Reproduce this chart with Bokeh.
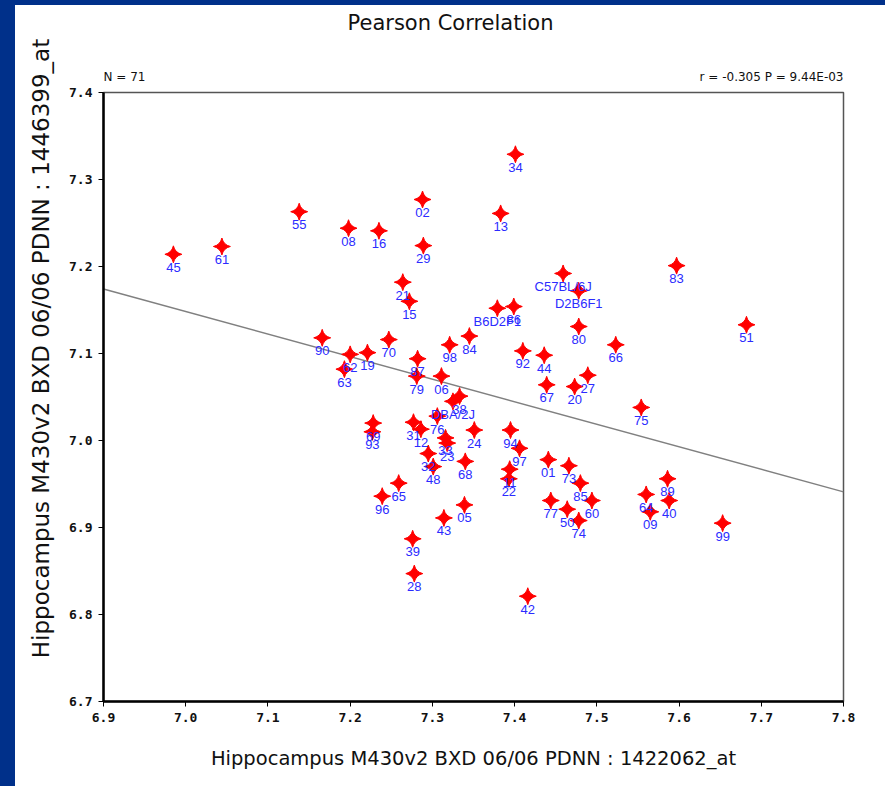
import numpy as np
from bokeh.plotting import figure
from bokeh.models import Range1d, FixedTicker, PrintfTickFormatter, Spacer, ColumnDataSource
from bokeh.layouts import column, row
from bokeh.core.properties import value
from bokeh.embed import file_html
from bokeh.resources import INLINE

# Strain means for the two probe sets (Hippocampus M430v2 BXD 06/06 PDNN)
strains = [
    "45", "61", "55", "08", "16", "02", "29", "21", "15", "34",
    "13", "83", "51", "C57BL/6J", "D2B6F1", "B6D2F1", "86", "80", "66", "84",
    "92", "44", "67", "20", "27", "75", "90", "62", "19", "63",
    "70", "98", "87", "79", "06", "38", "DBA/2J", "76", "31", "12",
    "33", "23", "69", "93", "24", "94", "97", "32", "48", "68",
    "11", "22", "65", "96", "05", "43", "39", "28", "42", "01",
    "73", "85", "77", "60", "50", "74", "64", "09", "89", "40",
    "99",
]
probe_1422062 = [
    6.985, 7.044, 7.138, 7.198, 7.235, 7.288, 7.289, 7.264, 7.272, 7.401,
    7.383, 7.597, 7.682, 7.459, 7.478, 7.379, 7.399, 7.478, 7.523, 7.345,
    7.410, 7.436, 7.439, 7.473, 7.489, 7.554, 7.166, 7.200, 7.221, 7.193,
    7.247, 7.321, 7.282, 7.281, 7.311, 7.333, 7.325, 7.306, 7.277, 7.286,
    7.316, 7.318, 7.228, 7.227, 7.351, 7.395, 7.406, 7.295, 7.301, 7.340,
    7.394, 7.393, 7.259, 7.239, 7.339, 7.314, 7.276, 7.278, 7.416, 7.441,
    7.466, 7.480, 7.444, 7.494, 7.464, 7.478, 7.560, 7.565, 7.586, 7.588,
    7.653,
]
probe_1446399 = [
    7.214, 7.223, 7.263, 7.244, 7.241, 7.277, 7.224, 7.182, 7.160, 7.329,
    7.261, 7.201, 7.133, 7.192, 7.172, 7.152, 7.154, 7.131, 7.110, 7.120,
    7.103, 7.098, 7.064, 7.062, 7.075, 7.038, 7.118, 7.099, 7.101, 7.082,
    7.116, 7.110, 7.094, 7.074, 7.074, 7.051, 7.045, 7.028, 7.021, 7.013,
    7.003, 6.997, 7.020, 7.010, 7.012, 7.012, 6.991, 6.985, 6.970, 6.976,
    6.967, 6.956, 6.951, 6.936, 6.926, 6.911, 6.887, 6.847, 6.821, 6.978,
    6.971, 6.951, 6.931, 6.931, 6.921, 6.908, 6.938, 6.918, 6.956, 6.931,
    6.905,
]
x_ticks = [6.9, 7.0, 7.1, 7.2, 7.3, 7.4, 7.5, 7.6, 7.7, 7.8]
y_ticks = [6.7, 6.8, 6.9, 7.0, 7.1, 7.2, 7.3, 7.4]
title_text = "Pearson Correlation"
n_text = "N = 71"
stat_text = "r = -0.305 P = 9.44E-03"
x_label = "Hippocampus M430v2 BXD 06/06 PDNN : 1422062_at"
y_label = "Hippocampus M430v2 BXD 06/06 PDNN : 1446399_at"

BAR_L, BAR_T = 15, 5          # blue page edge
PAGE_H = 781                  # height below the top bar
YT_W = 50                     # strip holding the vertical axis title
FIG_W = 885 - BAR_L - YT_W
PAD_L, PAD_R = 38, 42
HEAD_H = 79
x0, x1 = x_ticks[0], x_ticks[-1]
# data x at the horizontal middle of the whole page
x_mid = x0 + ((885 - BAR_L) / 2 - YT_W - PAD_L) / (FIG_W - PAD_L - PAD_R) * (x1 - x0)


def bare(fig):
    fig.outline_line_color = None
    fig.grid.visible = False
    fig.background_fill_color = "white"
    fig.border_fill_color = "white"
    return fig


# ---- vertical y-axis title strip ----
ytitle = bare(figure(
    width=YT_W, height=PAGE_H,
    x_range=Range1d(0, YT_W), y_range=Range1d(0, PAGE_H),
    x_axis_type=None, y_axis_type=None,
    output_backend="svg", toolbar_location=None, min_border=0,
))
ytitle.text(x=[YT_W / 2], y=[PAGE_H - 343], text=[y_label], angle=np.pi / 2,
            text_align="center", text_baseline="middle",
            text_font=value("DejaVu Sans"), text_font_size="23px", text_color="#111111")

# ---- header strip: title plus the N / r,P line sitting on the frame ----
head = bare(figure(
    width=FIG_W, height=HEAD_H,
    x_range=Range1d(x0, x1), y_range=Range1d(0, HEAD_H),
    x_axis_type=None, y_axis_type=None,
    output_backend="svg", toolbar_location=None,
    min_border=0, min_border_left=PAD_L, min_border_right=PAD_R,
))
head.text(x=[x_mid], y=[HEAD_H - 17], text=[title_text],
          text_align="center", text_baseline="middle",
          text_font=value("DejaVu Sans"), text_font_size="21px", text_color="#111111")
head.text(x=[x0], y=[0.5], text=[n_text],
          text_align="left", text_baseline="bottom",
          text_font=value("DejaVu Sans"), text_font_size="12px", text_color="#111111")
head.text(x=[x1], y=[0.5], text=[stat_text],
          text_align="right", text_baseline="bottom",
          text_font=value("DejaVu Sans"), text_font_size="12px", text_color="#111111")

# ---- scatter plot ----
src = ColumnDataSource(dict(x=probe_1422062, y=probe_1446399, name=strains))

p = figure(
    width=FIG_W, height=PAGE_H - HEAD_H,
    x_range=Range1d(x0, x1),
    y_range=Range1d(y_ticks[0], y_ticks[-1]),
    output_backend="svg", toolbar_location=None,
    min_border_left=PAD_L, min_border_right=PAD_R,
    min_border_top=8, min_border_bottom=85,
)
p.background_fill_color = "white"
p.border_fill_color = "white"
p.outline_line_color = "#555555"
p.outline_line_width = 1.5
p.grid.visible = False

for ax, ticks in ((p.xaxis[0], x_ticks), (p.yaxis[0], y_ticks)):
    ax.ticker = FixedTicker(ticks=ticks)
    ax.formatter = PrintfTickFormatter(format="%.1f")
    ax.axis_line_width = 2.5
    ax.axis_line_color = "black"
    ax.major_tick_out = 5
    ax.major_tick_in = 0
    ax.minor_tick_line_color = None
    ax.major_label_text_font = "DejaVu Sans Mono"
    ax.major_label_text_font_style = "bold"
    ax.major_label_text_font_size = "13px"
    ax.major_label_text_color = "#111111"
    ax.major_label_standoff = 6

p.xaxis.axis_label = x_label
p.xaxis.axis_label_text_font = "DejaVu Sans"
p.xaxis.axis_label_text_font_style = "normal"
p.xaxis.axis_label_text_color = "#111111"
p.xaxis.axis_label_text_font_size = "19.5px"
p.xaxis.axis_label_standoff = 22

# least-squares regression line across the x range
slope, intercept = np.polyfit(np.array(probe_1422062), np.array(probe_1446399), 1)
fx = np.array([x0, x1])
p.line(fx, slope * fx + intercept, line_color="#808080", line_width=1.5)

p.scatter("x", "y", source=src, marker="square_pin", size=12, angle=np.pi / 4,
          fill_color="#ff0000", line_color="#ff0000")
p.text("x", "y", text="name", source=src, text_align="center", text_baseline="middle",
       y_offset=13, text_font=value("Liberation Sans"), text_font_size="13px",
       text_color="#2b2bff")

frame_blue = "#00308a"
top_bar = Spacer(width=885, height=BAR_T, styles={"background-color": frame_blue})
left_bar = Spacer(width=BAR_L, height=PAGE_H, styles={"background-color": frame_blue})
page = column(top_bar, row(left_bar, ytitle, column(head, p)))

open("out.html", "w").write(file_html(page, INLINE))
